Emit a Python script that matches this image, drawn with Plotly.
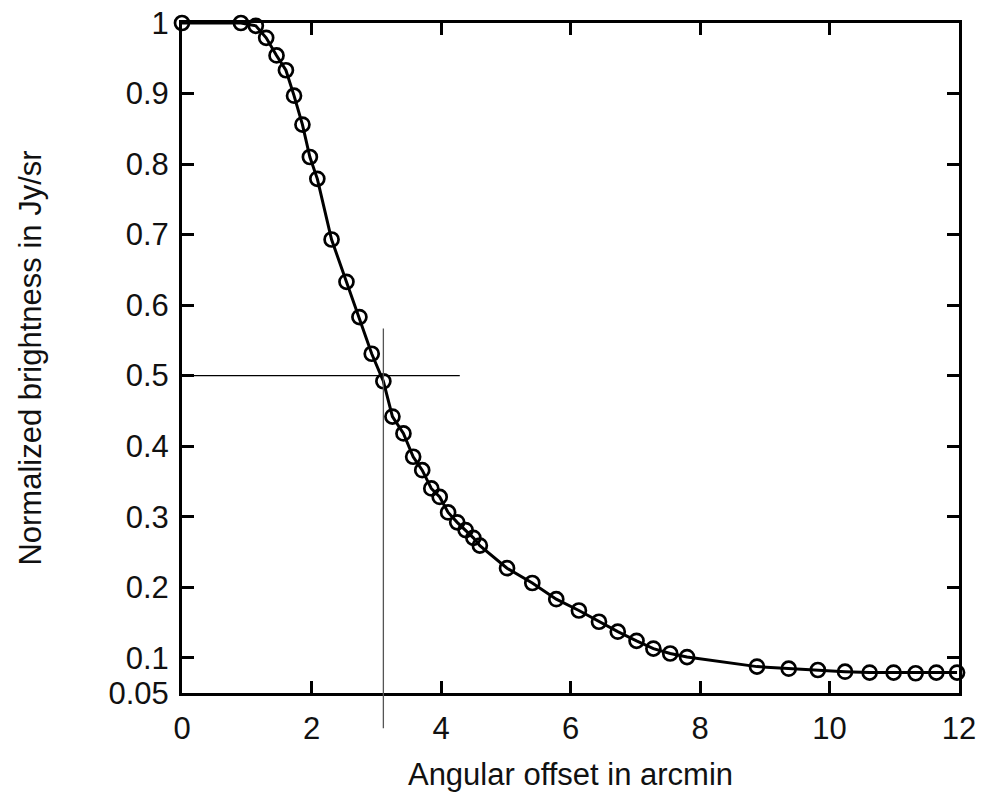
import plotly.graph_objects as go

# Data
offset_arcmin = [0, 0.91, 1.14, 1.30, 1.46, 1.605, 1.73, 1.86, 1.975, 2.09,
                 2.31, 2.54, 2.74, 2.93, 3.11, 3.25, 3.42, 3.57, 3.71, 3.85,
                 3.98, 4.11, 4.25, 4.38, 4.50, 4.60, 5.02, 5.41, 5.78, 6.13,
                 6.44, 6.73, 7.02, 7.28, 7.54, 7.80, 8.88, 9.37, 9.82, 10.24,
                 10.62, 10.99, 11.33, 11.65, 11.97]
brightness = [1.0, 1.0, 0.996, 0.979, 0.954, 0.933, 0.897, 0.856, 0.810, 0.779,
              0.693, 0.633, 0.583, 0.531, 0.492, 0.442, 0.418, 0.385, 0.366, 0.340,
              0.328, 0.306, 0.292, 0.281, 0.270, 0.259, 0.227, 0.206, 0.183, 0.167,
              0.151, 0.137, 0.124, 0.113, 0.106, 0.101, 0.0874, 0.0845, 0.0826, 0.0802,
              0.0789, 0.0789, 0.0780, 0.0789, 0.0789]

x_ticks = [0, 2, 4, 6, 8, 10, 12]
y_ticks = [0.05, 0.1, 0.2, 0.3, 0.4, 0.5, 0.6, 0.7, 0.8, 0.9, 1.0]
y_ticktext = ["0.05", "0.1", "0.2", "0.3", "0.4", "0.5", "0.6", "0.7", "0.8", "0.9", "1"]

x_range = [0, 12]
y_range = [0.05, 1.0]

# half-maximum guide lines
half_level = 0.5
half_line_x_end = 4.29
fwhm_x = 3.11
fwhm_line_y = [0.0, 0.567]

fig = go.Figure()
fig.add_trace(go.Scatter(
    x=offset_arcmin, y=brightness, mode="lines+markers",
    line=dict(color="black", width=3),
    marker=dict(symbol="circle-open", size=14, color="black", line=dict(width=2.7)),
    cliponaxis=False, showlegend=False))

def to_paper_y(v):
    return (v - y_range[0]) / (y_range[1] - y_range[0])

fig.add_shape(type="line", xref="x", yref="y", x0=0, x1=half_line_x_end,
              y0=half_level, y1=half_level, line=dict(color="black", width=1.2))
fig.add_shape(type="line", xref="x", yref="paper", x0=fwhm_x, x1=fwhm_x,
              y0=to_paper_y(fwhm_line_y[0]), y1=to_paper_y(fwhm_line_y[1]),
              line=dict(color="#555555", width=1.3))

font = dict(family="Liberation Sans, Arial, sans-serif", size=31, color="#111111")
axis_common = dict(showline=True, linecolor="black", linewidth=3, mirror="ticks",
                   ticks="inside", ticklen=12, tickwidth=2.5, tickcolor="black",
                   showgrid=False, zeroline=False, tickfont=font, automargin=False)

fig.update_layout(
    width=989, height=792,
    margin=dict(l=182, r=30, t=23, b=99),
    paper_bgcolor="white", plot_bgcolor="white",
    font=font,
    xaxis=dict(range=x_range, tickvals=x_ticks, ticklabelstandoff=6,
               title=dict(text="Angular offset in arcmin", font=font, standoff=19),
               **axis_common),
    yaxis=dict(range=y_range, tickvals=y_ticks, ticktext=y_ticktext,
               ticklabelstandoff=4,
               title=dict(text="Normalized brightness in Jy/sr", font=font, standoff=58),
               **axis_common),
)
fig.write_html("out.html")
